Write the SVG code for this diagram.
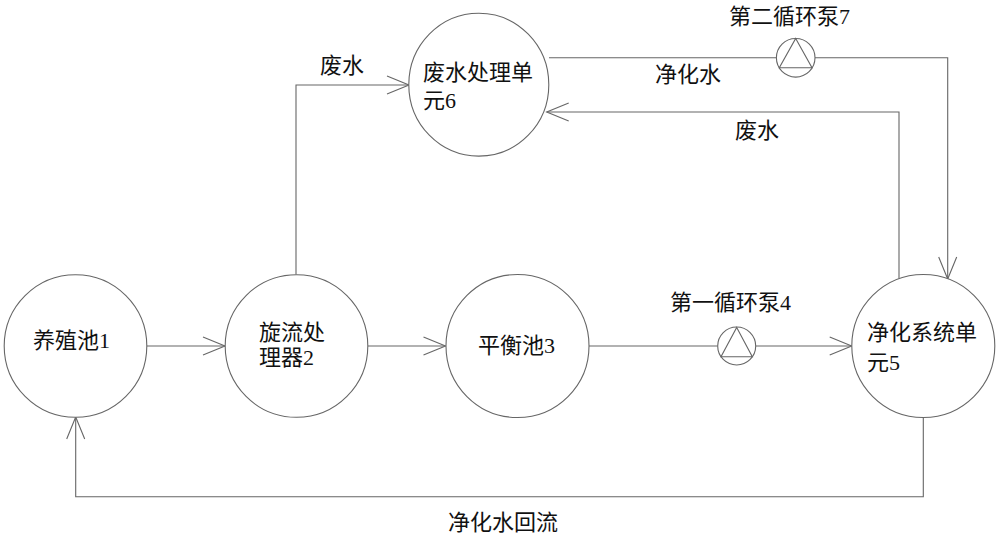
<svg xmlns="http://www.w3.org/2000/svg" width="1000" height="538" viewBox="0 0 1000 538">
<style>
.node{fill:#fff;stroke:#666;stroke-width:1.1}
.pump{fill:#fff;stroke:#666;stroke-width:1.1}
.line{fill:none;stroke:#666;stroke-width:1.1}
.t{font-family:"Liberation Serif","Noto Sans CJK SC",serif;font-size:22px;fill:#111}
</style>
<defs>
<marker id="arr" viewBox="-24 -11 26 22" refX="0" refY="0" markerWidth="26" markerHeight="22" markerUnits="userSpaceOnUse" orient="auto">
<path d="M-22,-9 L0,0 L-22,9" fill="none" stroke="#666" stroke-width="1.1"/>
</marker>
</defs>
<rect width="1000" height="538" fill="#fff"/>
<g id="connectors">
<path class="line" d="M147,346 H225" marker-end="url(#arr)"/>
<path class="line" d="M368,346 H445.5" marker-end="url(#arr)"/>
<path class="line" d="M589,346 H717.7"/>
<path class="line" d="M755.7,346 H851.7" marker-end="url(#arr)"/>
<path class="line" d="M296,274.5 V85 H409" marker-end="url(#arr)"/>
<path class="line" d="M549,57.7 H776.5"/>
<path class="line" d="M815,57.7 H947.7 V279" marker-end="url(#arr)"/>
<path class="line" d="M899,278.5 V112 H546.7" marker-end="url(#arr)"/>
<path class="line" d="M923.3,417 V496.7 H75.7 V417" marker-end="url(#arr)"/>
</g>
<g id="node1"><circle class="node" cx="75.5" cy="346" r="71.3"/><text class="t" x="33" y="348">养殖池1</text></g>
<g id="node2"><circle class="node" cx="296.5" cy="346" r="71.3"/><text class="t" x="259" y="340">旋流处</text><text class="t" x="259" y="365">理器2</text></g>
<g id="node3"><circle class="node" cx="517.5" cy="346" r="71.5"/><text class="t" x="478" y="353">平衡池3</text></g>
<g id="node4"><circle class="pump" cx="736.7" cy="346" r="19"/><path class="line" d="M736.7,327.5 L752.3,356.7 H721 Z"/><text class="t" x="670" y="310">第一循环泵4</text></g>
<g id="node5"><circle class="node" cx="923.3" cy="346" r="71.5"/><text class="t" x="867" y="340">净化系统单</text><text class="t" x="867" y="370">元5</text></g>
<g id="node6"><ellipse class="node" cx="478.8" cy="84.7" rx="70" ry="71.4"/><text class="t" x="423" y="80">废水处理单</text><text class="t" x="423" y="108">元6</text></g>
<g id="node7"><circle class="pump" cx="795.7" cy="57.8" r="19.3"/><path class="line" d="M795.7,38.5 L812,67.7 H779.3 Z"/><text class="t" x="729" y="23.5">第二循环泵7</text></g>
<g id="labels">
<text class="t" x="320" y="73">废水</text>
<text class="t" x="655" y="82">净化水</text>
<text class="t" x="735" y="138">废水</text>
<text class="t" x="448" y="530">净化水回流</text>
</g>
</svg>
